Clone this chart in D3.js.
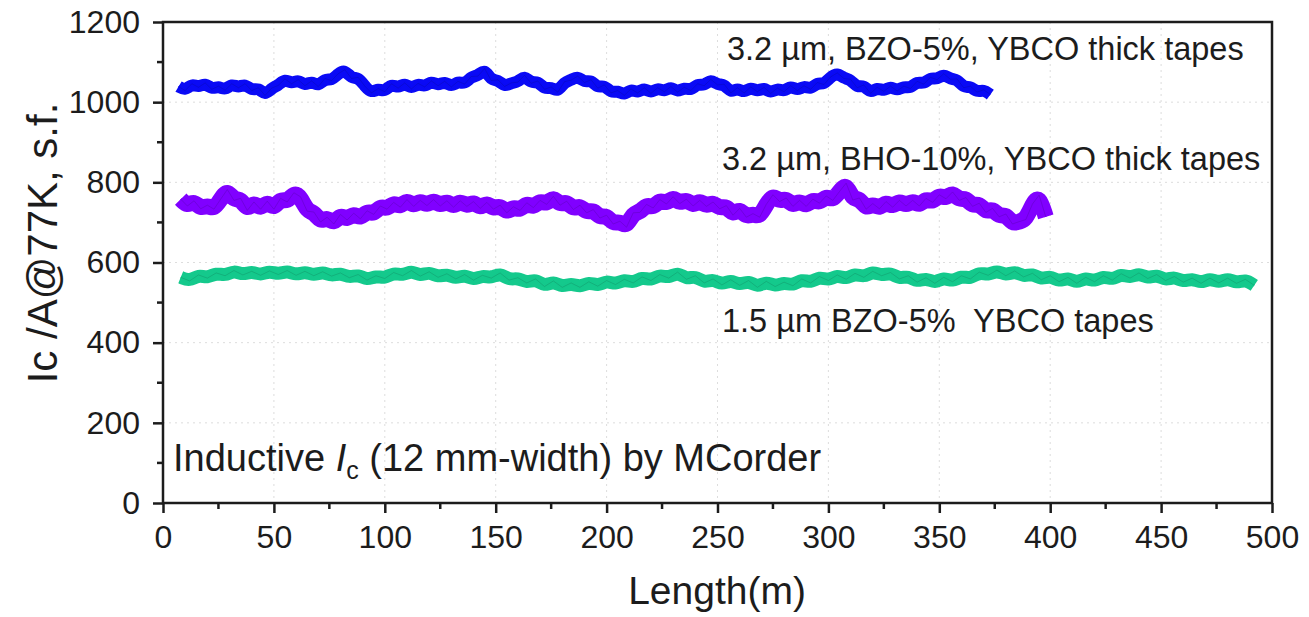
<!DOCTYPE html>
<html>
<head>
<meta charset="utf-8">
<script src="https://cdn.jsdelivr.net/npm/d3@7"></script>
<style>
  html, body { margin: 0; padding: 0; background: #fff; }
  svg { display: block; font-family: "Liberation Sans", Arial, sans-serif; }
</style>
</head>
<body>
<svg id="chart" width="1309" height="617"></svg>
<script>
// ---- data ----
const xTicks = [0, 50, 100, 150, 200, 250, 300, 350, 400, 450, 500];
const yTicks = [0, 200, 400, 600, 800, 1000, 1200];

// BZO-5% 3.2 um thick tape, sampled every 3 m from 7 m
const bzoThickStart = 7, bzoThickStep = 3;
const bzoThick = [1039,1029,1046,1037,1048,1032,1040,1030,1046,1036,1046,1029,1036,1017,1035,1042,1058,1046,1056,1041,
  1053,1039,1059,1054,1071,1081,1059,1062,1040,1023,1034,1026,1046,1035,1048,1033,1047,1038,1053,1041,
  1052,1038,1052,1045,1064,1065,1084,1054,1056,1039,1048,1050,1067,1047,1053,1032,1038,1025,1051,1055,
  1065,1049,1056,1035,1043,1023,1029,1017,1033,1023,1036,1022,1036,1026,1039,1025,1037,1029,1046,1041,
  1057,1043,1045,1023,1036,1023,1038,1026,1037,1022,1035,1026,1041,1029,1041,1032,1049,1044,1063,1073,
  1059,1057,1036,1043,1022,1037,1027,1040,1028,1040,1034,1052,1045,1062,1056,1071,1057,1058,1036,1040,
  1025,1031,1019];

// BHO-10% 3.2 um thick tape, sampled every 3 m from 8 m
const bhoThickStart = 8, bhoThickStep = 3;
const bhoThick = [758,741,754,734,743,733,758,782,755,760,730,751,733,753,733,760,751,774,764,728,
  726,701,713,696,720,706,723,709,729,720,741,733,750,738,757,740,755,742,757,741,
  754,738,754,740,752,735,750,733,743,724,739,730,749,737,755,745,765,743,753,732,
  743,724,732,711,718,696,703,688,724,725,745,736,757,746,764,747,758,741,755,740,
  751,734,742,718,735,713,722,713,745,769,752,761,740,755,740,758,748,766,755,777,
  798,756,761,733,747,734,752,738,755,741,755,741,760,750,769,759,776,755,762,740,
  748,725,735,714,721,696,702,707,746,768,714];

// BZO-5% 1.5 um tape, sampled every 4 m from 8 m
const bzoThinStart = 8, bzoThinStep = 4;
const bzoThin = [563,554,569,561,574,567,580,569,578,568,579,570,580,568,578,567,577,566,574,562,
  570,556,567,560,575,567,580,566,577,563,572,559,570,556,568,561,574,556,562,549,
  559,540,554,538,549,538,552,541,555,545,558,549,564,555,570,561,576,558,567,549,
  559,544,557,543,555,538,553,540,551,542,559,549,565,555,569,558,573,563,578,567,
  575,559,567,551,562,548,563,552,567,559,576,568,581,567,579,564,573,557,567,552,
  563,548,563,552,567,556,572,561,574,560,570,555,565,551,561,548,561,549,561,548,
  558,543];

const seriesNames = [
  "3.2 µm, BZO-5%, YBCO thick tapes",
  "3.2 µm, BHO-10%, YBCO thick tapes",
  "1.5 µm BZO-5%  YBCO tapes"
];
const seriesColors = ["#0a0af5", "#8000ff", "#14c98c"];
const seriesWidths = [12, 16, 13];

const xTitle = "Length(m)";
const yTitle = "Ic /A@77K, s.f.";

(function () {
// ---- layout ----
const svg = d3.select("#chart");
const pL = 163, pR = 1272, pT = 22, pB = 503;
const x = d3.scaleLinear().domain([0, 500]).range([pL, pR]);
const y = d3.scaleLinear().domain([0, 1200]).range([pB, pT]);
const ink = "#1c1c1c";

// grid
const grid = svg.append("g").attr("stroke", "#cfcfcf").attr("stroke-width", 1)
  .attr("stroke-dasharray", "2,4").attr("opacity", 0.7);
grid.selectAll("line.v").data(xTicks.slice(1, -1)).join("line").attr("class", "v")
  .attr("x1", d => x(d)).attr("x2", d => x(d)).attr("y1", pT).attr("y2", pB);
grid.selectAll("line.h").data(yTicks.slice(1, -1)).join("line").attr("class", "h")
  .attr("x1", pL).attr("x2", pR).attr("y1", d => y(d)).attr("y2", d => y(d));

// series
function pts(arr, start, step) { return arr.map((v, i) => [start + i * step, v]); }
const allSeries = [
  pts(bzoThick, bzoThickStart, bzoThickStep),
  pts(bhoThick, bhoThickStart, bhoThickStep),
  pts(bzoThin, bzoThinStart, bzoThinStep)
];
const band = d3.line().x(d => x(d[0])).y(d => y(d[1])).curve(d3.curveBasis);
const line = d3.line().x(d => x(d[0])).y(d => y(d[1]));
const plot = svg.append("g");
allSeries.forEach((s, i) => {
  plot.append("path").datum(s).attr("d", band).attr("fill", "none")
    .attr("stroke", seriesColors[i]).attr("stroke-width", seriesWidths[i])
    .attr("stroke-linejoin", "round").attr("stroke-linecap", "butt");
  plot.append("path").datum(s).attr("d", line).attr("fill", "none")
    .attr("stroke", seriesColors[i]).attr("stroke-width", 3)
    .attr("stroke-linejoin", "miter");
  plot.append("path").datum(s).attr("d", line).attr("fill", "none")
    .attr("stroke", d3.color(seriesColors[i]).darker(0.8)).attr("stroke-width", 1)
    .attr("opacity", 0.5);
});

// axes
const xMinor = d3.range(25, 500, 50);
const yMinor = d3.range(100, 1200, 200);
const xAxis = svg.append("g").attr("transform", `translate(0,${pB})`)
  .call(d3.axisBottom(x).tickValues(xTicks).tickSize(10).tickPadding(12).tickFormat(d3.format("d")));
const yAxis = svg.append("g").attr("transform", `translate(${pL},0)`)
  .call(d3.axisLeft(y).tickValues(yTicks).tickSize(10).tickPadding(13).tickFormat(d3.format("d")));
[xAxis, yAxis].forEach(a => {
  a.select(".domain").remove();
  a.selectAll("line").attr("stroke", ink).attr("stroke-width", 2.5);
  a.selectAll("text").attr("fill", ink).style("font-size", "32px");
});
svg.append("g").selectAll("line").data(xMinor).join("line")
  .attr("x1", d => x(d)).attr("x2", d => x(d)).attr("y1", pB).attr("y2", pB + 6)
  .attr("stroke", ink).attr("stroke-width", 2.5);
svg.append("g").selectAll("line").data(yMinor).join("line")
  .attr("x1", pL - 6).attr("x2", pL).attr("y1", d => y(d)).attr("y2", d => y(d))
  .attr("stroke", ink).attr("stroke-width", 2.5);
svg.append("rect").attr("x", pL).attr("y", pT).attr("width", pR - pL).attr("height", pB - pT)
  .attr("fill", "none").attr("stroke", ink).attr("stroke-width", 2.5);

// annotations
const ann = [[727, 60], [722, 170], [722, 332]];
seriesNames.forEach((t, i) => {
  svg.append("text").attr("x", ann[i][0]).attr("y", ann[i][1]).attr("fill", ink)
    .style("font-size", "32.5px").style("white-space", "pre").attr("xml:space", "preserve").text(t);
});
const ind = svg.append("text").attr("x", 173).attr("y", 471).attr("fill", ink).style("font-size", "38px")
  .style("white-space", "pre").attr("xml:space", "preserve");
ind.append("tspan").text("Inductive ");
ind.append("tspan").style("font-style", "italic").text("I");
ind.append("tspan").attr("dy", 8).style("font-size", "25px").text("c");
ind.append("tspan").attr("dy", -8).text(" (12 mm-width) by MCorder");

// axis titles
svg.append("text").attr("x", 717).attr("y", 604).attr("text-anchor", "middle").attr("fill", ink)
  .style("font-size", "39px").text(xTitle);
svg.append("text").attr("transform", "translate(57,243) rotate(-90)").attr("text-anchor", "middle")
  .attr("fill", ink).style("font-size", "42px").text(yTitle);
})();
</script>
</body>
</html>
